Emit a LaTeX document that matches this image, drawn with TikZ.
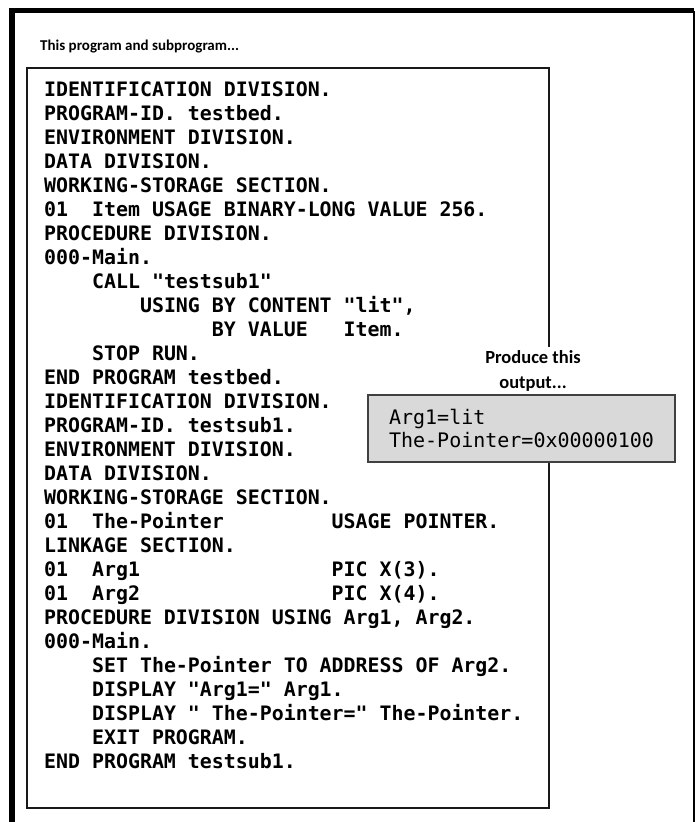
\documentclass[tikz,border=0pt]{standalone}
\usepackage{fontspec}
\usetikzlibrary{positioning}
\newfontfamily\codefont{DejaVu Sans Mono}
\newfontfamily\notefont{Carlito}

\begin{document}
\begin{tikzpicture}[x=1pt,y=-1pt,
	every node/.style={inner sep=0pt,align=left},
	panel/.style={draw=black!90,line width=2pt},
	outbox/.style={draw=black!75,line width=1.3pt,fill=black!15,minimum width=307pt,minimum height=67pt},
	code/.style={font={\codefont\bfseries\fontsize{19.9}{24}\selectfont\frenchspacing}},
	outtext/.style={font={\codefont\fontsize{20}{23}\selectfont\frenchspacing}},
	note/.style={font={\notefont\bfseries\fontsize{15}{25}\selectfont}}]

	\useasboundingbox (0,0) rectangle (695,822);

	% outer frame
	\draw[line width=5.5pt] (12,822) -- (12,10.5) -- (694,10.5);
	\draw[line width=1.2pt] (694,10.5) -- (694,822);

	\node[note, anchor=west] (caption) at (40,47) {This program and subprogram...};

	\node[panel, minimum width=522pt, minimum height=740pt, anchor=north west] (panel) at (26,67) {};
	\node[code, below right=15pt and 18pt of panel.north west] (listing) {
		IDENTIFICATION DIVISION.\\
		PROGRAM-ID. testbed.\\
		ENVIRONMENT DIVISION.\\
		DATA DIVISION.\\
		WORKING-STORAGE SECTION.\\
		01\hphantom{00}Item USAGE BINARY-LONG VALUE 256.\\
		PROCEDURE DIVISION.\\
		000-Main.\\
		\hphantom{0000}CALL "testsub1"\\
		\hphantom{00000000}USING BY CONTENT "lit",\\
		\hphantom{00000000000000}BY VALUE\hphantom{000}Item.\\
		\hphantom{0000}STOP RUN.\\
		END PROGRAM testbed.\\
		IDENTIFICATION DIVISION.\\
		PROGRAM-ID. testsub1.\\
		ENVIRONMENT DIVISION.\\
		DATA DIVISION.\\
		WORKING-STORAGE SECTION.\\
		01\hphantom{00}The-Pointer\hphantom{000000000}USAGE POINTER.\\
		LINKAGE SECTION.\\
		01\hphantom{00}Arg1\hphantom{0000000000000000}PIC X(3).\\
		01\hphantom{00}Arg2\hphantom{0000000000000000}PIC X(4).\\
		PROCEDURE DIVISION USING Arg1, Arg2.\\
		000-Main.\\
		\hphantom{0000}SET The-Pointer TO ADDRESS OF Arg2.\\
		\hphantom{0000}DISPLAY "Arg1=" Arg1.\\
		\hphantom{0000}DISPLAY " The-Pointer=" The-Pointer.\\
		\hphantom{0000}EXIT PROGRAM.\\
		END PROGRAM testsub1.
	};

	\node[note, font={\notefont\bfseries\fontsize{18.5}{25}\selectfont}, align=center, fill=white, inner sep=4pt,
		anchor=south] (produce) at (533,396) {Produce this\\output...};
	\node[outbox, outtext] (output) at (521.5,428.5) {Arg1=lit\\The-Pointer=0x00000100};

\end{tikzpicture}
\end{document}
